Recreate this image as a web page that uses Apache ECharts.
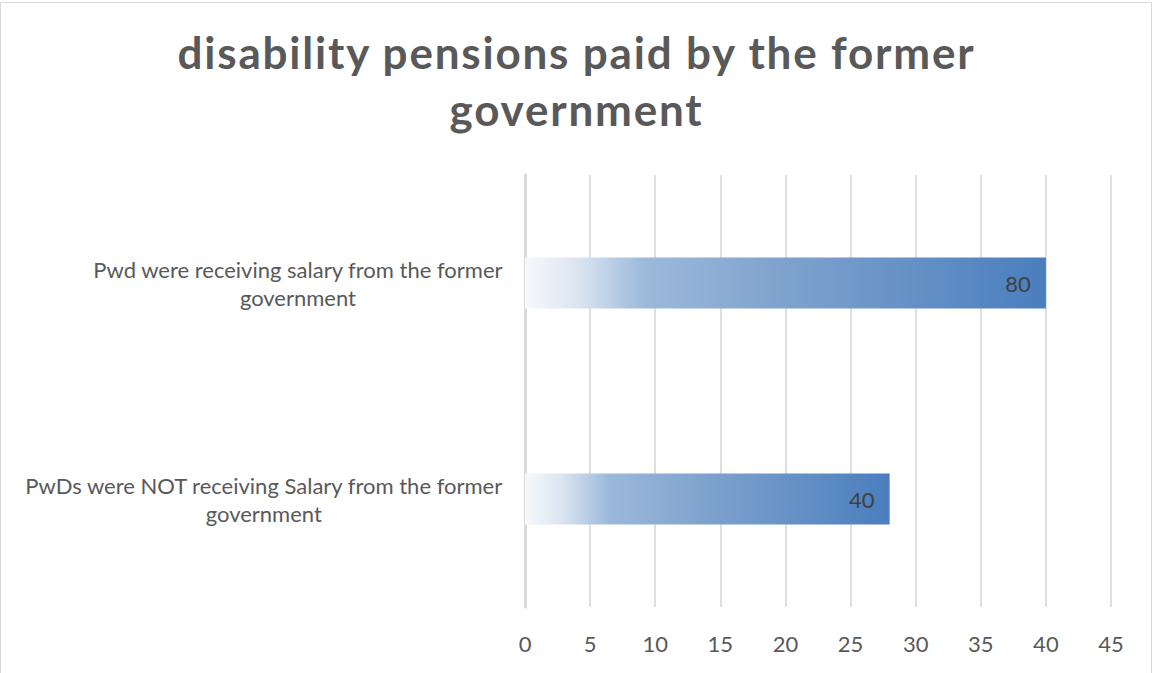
<!DOCTYPE html>
<html>
<head>
<meta charset="utf-8">
<style>
  html, body { margin: 0; padding: 0; background: #fff; }
  #chart { width: 1153px; height: 673px; }
</style>
<script src="https://cdn.jsdelivr.net/npm/echarts@6/dist/echarts.min.js"></script>
</head>
<body>
<div id="chart"></div>
<script>
// Categories, top to bottom
const categories = [
  'Pwd were receiving salary from the former\ngovernment',
  'PwDs were NOT receiving Salary from the former\ngovernment'
];
// Bar lengths on the value axis
const barValues = [40, 28];
// Respondent counts printed on the bars
const countLabels = [80, 40];
// Value axis range
const axisMin = 0;
const axisMax = 45;
const axisStep = 5;

const FONT = 'Lato, "Open Sans", sans-serif';
const TITLE_SIZE = 44;

const chart = echarts.init(document.getElementById('chart'), null, { renderer: 'svg' });

const barGradient = new echarts.graphic.LinearGradient(0, 0, 1, 0, [
  { offset: 0, color: '#f6f9fc' },
  { offset: 0.1, color: '#dbe5f1' },
  { offset: 0.23, color: '#9cb9da' },
  { offset: 0.5, color: '#7ea2cd' },
  { offset: 1, color: '#4a7ebe' }
]);

chart.setOption({
  backgroundColor: '#ffffff',
  animation: false,
  title: {
    text: 'disability pensions paid by the former\ngovernment',
    left: 'center',
    top: 18,
    textStyle: {
      fontFamily: FONT,
      fontSize: TITLE_SIZE,
      fontWeight: 'bold',
      color: '#595959',
      lineHeight: 57
    }
  },
  graphic: [{
    type: 'rect',
    shape: { x: 0.5, y: 2.5, width: 1151, height: 672 },
    style: { fill: 'none', stroke: '#d9d9d9', lineWidth: 1 },
    silent: true
  }],
  grid: { left: 525, right: 42, top: 175, bottom: 66 },
  xAxis: {
    type: 'value',
    min: axisMin,
    max: axisMax,
    interval: axisStep,
    axisLine: { show: false },
    axisTick: { show: false },
    axisLabel: {
      margin: 25,
      fontFamily: FONT,
      fontSize: 22,
      color: '#595959'
    },
    splitLine: { lineStyle: { color: '#d4d4d4', width: 1.5 } }
  },
  yAxis: {
    type: 'category',
    data: categories,
    inverse: true,
    axisLine: { show: true, lineStyle: { color: '#d9d9d9', width: 3 } },
    axisTick: { show: false },
    axisLabel: {
      margin: 22,
      formatter: function (v) {
        return v.split('\n').map(function (s) { return '{c|' + s + '}'; }).join('\n');
      },
      rich: {
        c: {
          fontFamily: FONT,
          fontSize: 22,
          color: '#595959',
          lineHeight: 28,
          align: 'center'
        }
      }
    }
  },
  series: [{
    type: 'bar',
    data: barValues,
    barWidth: 51,
    itemStyle: { color: barGradient },
    label: {
      show: true,
      position: 'insideRight',
      distance: 15,
      fontFamily: FONT,
      fontSize: 22,
      color: '#404040',
      formatter: function (p) { return String(countLabels[p.dataIndex]); }
    }
  }]
});

// Open up the tracking of the large title lines
function spaceTitle() {
  document.querySelectorAll('#chart svg text').forEach(function (t) {
    const fs = parseFloat(getComputedStyle(t).fontSize);
    if (fs >= TITLE_SIZE - 1) t.style.letterSpacing = '1.8px';
  });
}
chart.on('finished', spaceTitle);
spaceTitle();
</script>
</body>
</html>
